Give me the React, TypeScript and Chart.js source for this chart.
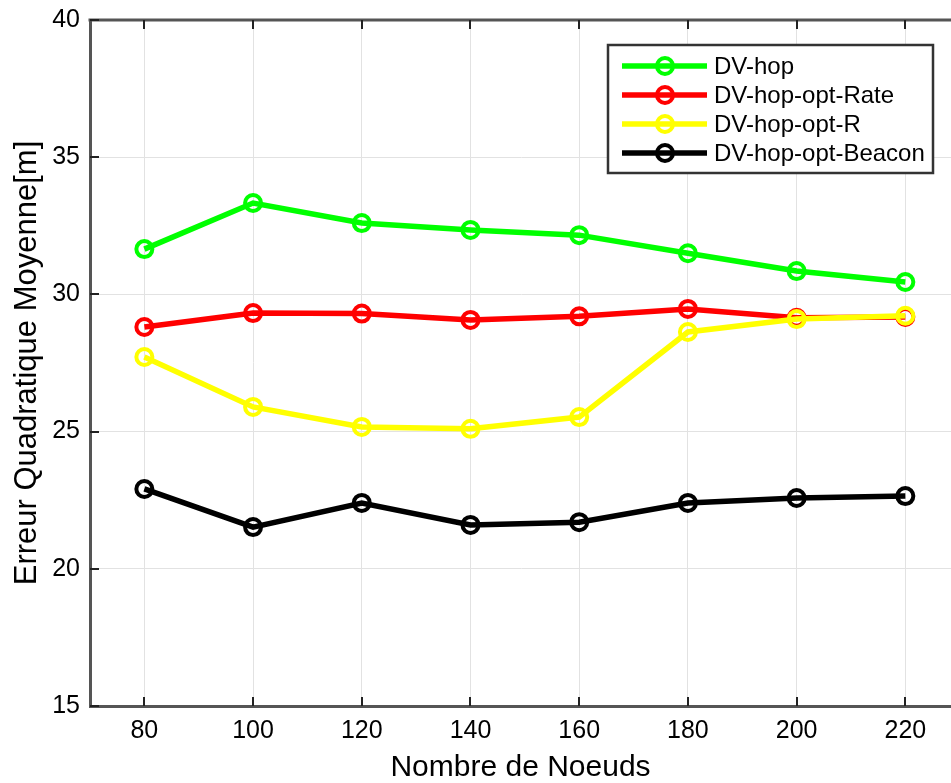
import React, { useEffect, useRef } from "react";
import { Chart, registerables } from "chart.js";

Chart.register(...registerables);

const nodeCounts = [80, 100, 120, 140, 160, 180, 200, 220];
const dvHop = [31.65, 33.33, 32.6, 32.35, 32.16, 31.5, 30.85, 30.45];
const dvHopOptRate = [28.81, 29.32, 29.3, 29.07, 29.2, 29.47, 29.15, 29.18];
const dvHopOptR = [27.72, 25.9, 25.17, 25.1, 25.53, 28.63, 29.1, 29.22];
const dvHopOptBeacon = [22.91, 21.52, 22.4, 21.6, 21.7, 22.4, 22.58, 22.65];
const yTickValues = [15, 20, 25, 30, 35, 40];

const seriesNames = ["DV-hop", "DV-hop-opt-Rate", "DV-hop-opt-R", "DV-hop-opt-Beacon"];
const seriesColors = ["#00ff00", "#ff0000", "#ffff00", "#000000"];
const seriesValues = [dvHop, dvHopOptRate, dvHopOptR, dvHopOptBeacon];

const FONT = "'Liberation Sans', Arial, Helvetica, sans-serif";
const AXIS_COLOR = "#555555";

const framePlugin = {
  id: "frameAndLegend",
  afterDraw(chart: any) {
    const { ctx, chartArea: a, scales } = chart;
    ctx.save();
    // top frame line
    ctx.strokeStyle = AXIS_COLOR;
    ctx.lineWidth = 3;
    ctx.beginPath();
    ctx.moveTo(a.left - 1.5, a.top);
    ctx.lineTo(a.right, a.top);
    ctx.stroke();
    // inward ticks
    ctx.strokeStyle = "#222222";
    ctx.lineWidth = 2;
    ctx.beginPath();
    scales.x.ticks.forEach((t: any) => {
      const px = Math.round(scales.x.getPixelForValue(t.value));
      ctx.moveTo(px, a.bottom);
      ctx.lineTo(px, a.bottom - 9);
      ctx.moveTo(px, a.top);
      ctx.lineTo(px, a.top + 9);
    });
    scales.y.ticks.forEach((t: any) => {
      const py = Math.round(scales.y.getPixelForValue(t.value));
      ctx.moveTo(a.left, py);
      ctx.lineTo(a.left + 9, py);
    });
    ctx.stroke();

    // legend
    const bx = 608, by = 45, bw = 325, bh = 128;
    ctx.fillStyle = "#ffffff";
    ctx.fillRect(bx, by, bw, bh);
    ctx.strokeStyle = "#333333";
    ctx.lineWidth = 2.5;
    ctx.strokeRect(bx, by, bw, bh);
    const rows = [66, 95, 124, 153];
    ctx.font = `24px ${FONT}`;
    ctx.textBaseline = "middle";
    ctx.textAlign = "left";
    chart.data.datasets.forEach((ds: any, i: number) => {
      const y = rows[i];
      ctx.strokeStyle = ds.borderColor;
      ctx.lineWidth = 5.5;
      ctx.beginPath();
      ctx.moveTo(622, y);
      ctx.lineTo(707, y);
      ctx.stroke();
      ctx.lineWidth = 4;
      ctx.beginPath();
      ctx.arc(665, y, 8, 0, Math.PI * 2);
      ctx.stroke();
      ctx.fillStyle = "#000000";
      ctx.fillText(ds.label, 714, y + 1);
    });
    ctx.restore();
  },
};

function zeroPadding(s: any) {
  s.paddingLeft = 0;
  s.paddingRight = 0;
  s.paddingTop = 0;
  s.paddingBottom = 0;
}

export default function App() {
  const ref = useRef<HTMLCanvasElement | null>(null);

  useEffect(() => {
    if (!ref.current) return;
    const datasets = seriesNames.map((name, i) => ({
      label: name,
      data: nodeCounts.map((x, j) => ({ x, y: seriesValues[i][j] })),
      borderColor: seriesColors[i],
      backgroundColor: seriesColors[i],
      borderWidth: 5.5,
      pointRadius: 8,
      pointHoverRadius: 8,
      pointBorderWidth: 4,
      pointBorderColor: seriesColors[i],
      pointBackgroundColor: "rgba(0,0,0,0)",
      tension: 0,
      order: 4 - i,
    }));
    const chart = new Chart(ref.current, {
      type: "line",
      data: { datasets },
      options: {
        animation: false,
        responsive: false,
        maintainAspectRatio: false,
        layout: { autoPadding: false, padding: { left: 0, right: 0, top: 20, bottom: 0 } },
        plugins: { legend: { display: false }, tooltip: { enabled: false } },
        scales: {
          x: {
            type: "linear",
            min: 70,
            max: 228.4,
            afterBuildTicks: (s: any) => {
              s.ticks = nodeCounts.map((v) => ({ value: v }));
            },
            afterFit: (s: any) => {
              s.height = 77;
              zeroPadding(s);
            },
            ticks: {
              padding: 10,
              color: "#000000",
              font: { family: FONT, size: 25 },
              maxRotation: 0,
              autoSkip: false,
            },
            grid: { color: "#e2e2e2", lineWidth: 1, drawTicks: false },
            border: { display: true, color: AXIS_COLOR, width: 3 },
            title: {
              display: true,
              text: "Nombre de Noeuds",
              color: "#000000",
              font: { family: FONT, size: 30, lineHeight: 1 },
              padding: { top: 0, bottom: 0 },
            },
          },
          y: {
            type: "linear",
            min: 15,
            max: 40,
            afterBuildTicks: (s: any) => {
              s.ticks = yTickValues.map((v) => ({ value: v }));
            },
            afterFit: (s: any) => {
              s.width = 90;
              zeroPadding(s);
            },
            ticks: {
              padding: 10,
              color: "#000000",
              font: { family: FONT, size: 25 },
            },
            grid: { color: "#e2e2e2", lineWidth: 1, drawTicks: false },
            border: { display: true, color: AXIS_COLOR, width: 3 },
            title: {
              display: true,
              text: "Erreur Quadratique Moyenne[m]",
              color: "#000000",
              font: { family: FONT, size: 31, lineHeight: 1 },
              padding: { top: 12, bottom: 0 },
            },
          },
        },
      },
      plugins: [framePlugin],
    });
    return () => chart.destroy();
  }, []);

  return (
    <div style={{ position: "absolute", left: 0, top: 0, width: 951, height: 783, background: "#ffffff" }}>
      <canvas ref={ref} width={951} height={783} style={{ display: "block" }} />
    </div>
  );
}
